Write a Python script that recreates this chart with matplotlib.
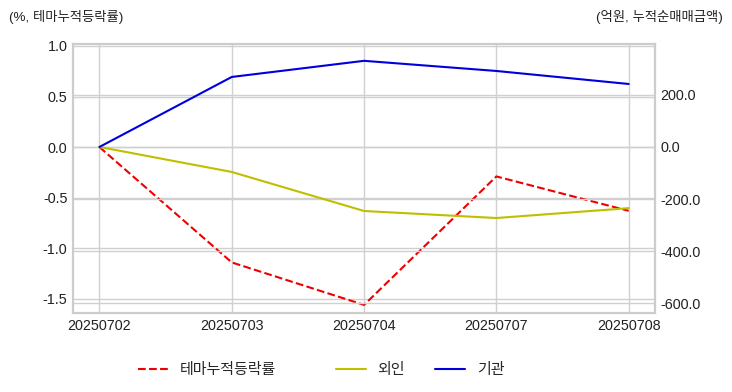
import matplotlib
matplotlib.use("Agg")
import matplotlib.pyplot as plt
from matplotlib.ticker import FormatStrFormatter, MultipleLocator

plt.style.use("seaborn-v0_8-whitegrid")
plt.rcParams['font.family'] = ['Liberation Sans', 'Noto Sans CJK KR', 'DejaVu Sans']
plt.rcParams['axes.unicode_minus'] = False

dates = ["20250702", "20250703", "20250704", "20250707", "20250708"]
theme_return = [0.0, -1.14, -1.56, -0.29, -0.63]
foreign = [0.0, -96, -246, -273, -235]
institution = [0.0, 269, 331, 292, 242]

fig = plt.figure(figsize=(7.32, 3.92), dpi=100)
ax = fig.add_axes([0.0997, 0.2015, 0.7953, 0.6865])
ax2 = ax.twinx()

x = list(range(len(dates)))
l1, = ax.plot(x, theme_return, color='#ee0000', linestyle='--', linewidth=1.5, label='테마누적등락률')
l2, = ax2.plot(x, foreign, color='#bfbf00', linewidth=1.5, label='외인')
l3, = ax2.plot(x, institution, color='#0000dd', linewidth=1.5, label='기관')

ax.set_xlim(-0.2, 4.2)
ax.set_xticks(x)
ax.set_xticklabels(dates)
ax.set_ylim(-1.64, 1.02)
ax.yaxis.set_major_locator(MultipleLocator(0.5))
ax.yaxis.set_major_formatter(FormatStrFormatter('%.1f'))
ax2.set_ylim(-638, 396)
ax2.yaxis.set_major_locator(MultipleLocator(200))
ax2.yaxis.set_major_formatter(FormatStrFormatter('%.1f'))

for a in (ax, ax2):
    a.grid(True, color='#d0d0d0', linewidth=1.0)
    a.tick_params(labelsize=10.4, colors='#222222', length=0, pad=4)
    for s in a.spines.values():
        s.set_color('#cccccc')
        s.set_linewidth(1.5)
ax2.grid(True, axis='y')
ax2.xaxis.grid(False)

fig.text(0.012, 0.957, '(%, 테마누적등락률)', fontsize=9.6, color='#222222', ha='left', va='center')
fig.text(0.988, 0.957, '(억원, 누적순매매금액)', fontsize=9.6, color='#222222', ha='right', va='center')

leg1 = fig.legend(handles=[l1], loc='center', bbox_to_anchor=(0.283, 0.056), frameon=False, fontsize=10.8)
leg2 = fig.legend(handles=[l2, l3], loc='center', bbox_to_anchor=(0.574, 0.056), ncol=2, frameon=False, fontsize=10.8)

fig.savefig('out.png', dpi=100)
